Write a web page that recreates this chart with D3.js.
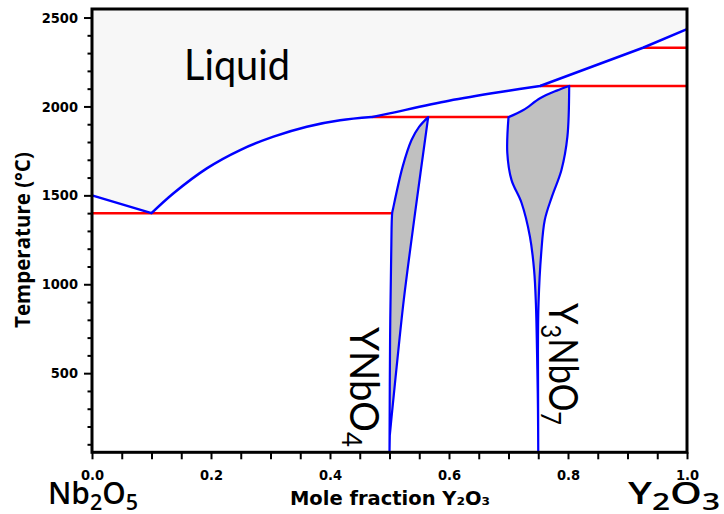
<!DOCTYPE html>
<html>
<head>
<meta charset="utf-8">
<script src="https://cdn.jsdelivr.net/npm/d3@7"></script>
<style>
  body { margin: 0; background: #fff; }
  svg { display: block; }
</style>
</head>
<body>
<svg id="chart" width="724" height="514"></svg>
<script>
// Liquidus, split into its branches (mole fraction Y2O3, temperature in °C)
const liqNbX  = [0, 0.10];
const liqNbT  = [1500, 1400];
const liqLowX = [0.10, 0.137, 0.193, 0.249, 0.305, 0.361, 0.417, 0.47];
const liqLowT = [1400, 1512, 1652, 1755, 1830, 1886, 1922, 1940];
const liqMidX = [0.47, 0.50, 0.60, 0.70, 0.753];
const liqMidT = [1940, 1961, 2032, 2088, 2115];
const liqYX   = [0.753, 0.926, 1.0];
const liqYT   = [2115, 2330, 2435];

// Invariant isotherms
const isoT  = [1400, 1940, 2115, 2330];
const isoX0 = [0, 0.47, 0.753, 0.926];
const isoX1 = [0.504, 0.70, 1.0, 1.0];

// YNbO4 solid-solution field: left boundary (bottom to top), right boundary (top to bottom)
const ynbLeftX  = [0.500, 0.501, 0.503, 0.5045, 0.506, 0.522, 0.537, 0.550, 0.565];
const ynbLeftT  = [55, 700, 1200, 1400, 1425, 1660, 1811, 1886, 1940];
const ynbRightX = [0.565, 0.543, 0.524, 0.512, 0.5035, 0.5005];
const ynbRightT = [1940, 1401, 912, 535, 254, 150];

// Y3NbO7 solid-solution field: left boundary, upper boundary, right boundary
const y3LeftX  = [0.750, 0.7495, 0.7485, 0.746, 0.743, 0.736, 0.722, 0.705, 0.698, 0.700];
const y3LeftT  = [55, 300, 519, 895, 1081, 1268, 1457, 1587, 1738, 1940];
const y3TopX   = [0.700, 0.725, 0.753, 0.781, 0.802];
const y3TopT   = [1940, 1980, 2046, 2089, 2115];
const y3RightX = [0.802, 0.799, 0.789, 0.773, 0.761, 0.755, 0.7505, 0.7495];
const y3RightT = [2115, 1830, 1643, 1493, 1362, 1176, 895, 631];

// Axis ticks
const xTicks      = d3.range(0, 1.0001, 0.05);
const xTickLabels = [0, 0.2, 0.4, 0.6, 0.8, 1.0];
const yTickLabels = [500, 1000, 1500, 2000, 2500];
const yMinor      = d3.range(100, 2550, 100).filter(v => v % 500 !== 0);

const x = d3.scaleLinear().domain([0, 1]).range([92, 687]);
const y = d3.scaleLinear().domain([55, 2548]).range([452.3, 9]);

const svg = d3.select("#chart");
const zip = (xs, ts) => xs.map((v, i) => [v, ts[i]]);
const lin = d3.line().x(d => x(d[0])).y(d => y(d[1]));
const smooth = d3.line().x(d => x(d[0])).y(d => y(d[1])).curve(d3.curveCatmullRom.alpha(0.5));
// chain several path pieces into one continuous path
const chain = (...parts) => parts.map((p, i) => i ? p.replace(/^M/, "L") : p).join("");

const liquidus = chain(
  lin(zip(liqNbX, liqNbT)),
  smooth(zip(liqLowX, liqLowT)),
  smooth(zip(liqMidX, liqMidT)),
  lin(zip(liqYX, liqYT))
);

// liquid field
svg.append("path")
  .attr("d", liquidus + `L${x(1)},${y(2548)}L${x(0)},${y(2548)}Z`)
  .attr("fill", "#f7f7f7");

// isotherms
svg.append("g").selectAll("line")
  .data(isoT)
  .join("line")
  .attr("x1", (t, i) => x(isoX0[i]))
  .attr("x2", (t, i) => x(isoX1[i]))
  .attr("y1", t => y(t))
  .attr("y2", t => y(t))
  .attr("stroke", "#ff0000")
  .attr("stroke-width", 2.5);

// solid-solution fields
const ynbField = chain(
  smooth(zip(ynbLeftX, ynbLeftT)),
  smooth(zip(ynbRightX, ynbRightT))
) + "Z";
const y3Field = chain(
  smooth(zip(y3LeftX, y3LeftT)),
  smooth(zip(y3TopX, y3TopT)),
  smooth(zip(y3RightX, y3RightT))
) + "Z";

svg.append("g").selectAll("path")
  .data([ynbField, y3Field])
  .join("path")
  .attr("d", d => d)
  .attr("fill", "#c0c0c0")
  .attr("stroke", "#0000ff")
  .attr("stroke-width", 2.2)
  .attr("stroke-linejoin", "round");

// liquidus line
svg.append("path")
  .attr("d", liquidus)
  .attr("fill", "none")
  .attr("stroke", "#0000ff")
  .attr("stroke-width", 2.5)
  .attr("stroke-linejoin", "round");

// frame
svg.append("rect")
  .attr("x", x(0)).attr("y", y(2548))
  .attr("width", x(1) - x(0)).attr("height", y(55) - y(2548))
  .attr("fill", "none")
  .attr("stroke", "#000")
  .attr("stroke-width", 3);

const tickFont = "'DejaVu Sans Condensed', 'DejaVu Sans', sans-serif";

// y axis
svg.append("g").attr("transform", `translate(${x(0)},0)`)
  .call(d3.axisLeft(y).tickValues(yMinor).tickSize(4.5).tickFormat(""))
  .call(g => g.select(".domain").remove())
  .call(g => g.selectAll("text").remove())
  .selectAll("line").attr("stroke-width", 2);
const yAxis = svg.append("g").attr("transform", `translate(${x(0)},0)`)
  .call(d3.axisLeft(y).tickValues(yTickLabels).tickSize(8).tickPadding(6).tickFormat(d3.format("d")));
yAxis.select(".domain").remove();
yAxis.selectAll("line").attr("stroke-width", 2);
yAxis.selectAll("text")
  .attr("font-family", tickFont).attr("font-weight", "bold").attr("font-size", 14.5)
  .attr("font-stretch", "condensed").attr("fill", "#000");

// x axis
svg.append("g").attr("transform", `translate(0,${y(55)})`)
  .call(d3.axisBottom(x).tickValues(xTicks).tickSize(7).tickFormat(""))
  .call(g => g.select(".domain").remove())
  .call(g => g.selectAll("text").remove())
  .selectAll("line").attr("stroke-width", 2);
const xAxis = svg.append("g").attr("transform", `translate(0,${y(55)})`)
  .call(d3.axisBottom(x).tickValues(xTickLabels).tickSize(0).tickPadding(17).tickFormat(d3.format(".1f")));
xAxis.select(".domain").remove();
xAxis.selectAll("line").remove();
xAxis.selectAll("text")
  .attr("font-family", tickFont).attr("font-weight", "bold").attr("font-size", 14.5)
  .attr("font-stretch", "condensed").attr("fill", "#000");

// axis titles
svg.append("text")
  .attr("transform", "translate(30,240) rotate(-90)")
  .attr("text-anchor", "middle")
  .attr("font-family", "'Open Sans', sans-serif").attr("font-weight", "bold").attr("font-size", 20.5)
  .text("Temperature (°C)");

svg.append("text")
  .attr("x", 390).attr("y", 505)
  .attr("text-anchor", "middle")
  .attr("font-family", "'DejaVu Sans', sans-serif").attr("font-weight", "bold").attr("font-size", 19.5)
  .text("Mole fraction Y₂O₃");

// chemical formula with subscripted digits
function formula(sel, parts, size, subScale = 0.68) {
  let low = false;
  parts.forEach(([s, sub]) => {
    const t = sel.append("tspan").text(s);
    if (sub) {
      t.attr("font-size", size * subScale);
      if (!low) t.attr("dy", size * 0.2);
      low = true;
    } else {
      if (low) t.attr("dy", -size * 0.2);
      low = false;
    }
  });
  return sel;
}

const endFont = "'Open Sans', sans-serif";
formula(svg.append("text").attr("x", 48).attr("y", 504)
  .attr("font-family", endFont).attr("font-weight", 600).attr("font-size", 30)
  .attr("textLength", 90).attr("lengthAdjust", "spacingAndGlyphs"),
  [["Nb"], ["2", 1], ["O"], ["5", 1]], 30, 0.72);
formula(svg.append("text").attr("x", 628).attr("y", 504)
  .attr("font-family", endFont).attr("font-weight", 600).attr("font-size", 30)
  .attr("textLength", 92).attr("lengthAdjust", "spacingAndGlyphs"),
  [["Y"], ["2", 1], ["O"], ["3", 1]], 30, 0.78);

// field labels
svg.append("text")
  .attr("x", 184).attr("y", 79.5)
  .attr("font-family", "Lato, sans-serif").attr("font-size", 42)
  .attr("textLength", 106).attr("lengthAdjust", "spacingAndGlyphs")
  .text("Liquid");

formula(svg.append("text")
  .attr("transform", "translate(350,327) rotate(90)")
  .attr("font-family", "Lato, sans-serif").attr("font-size", 41)
  .attr("textLength", 120).attr("lengthAdjust", "spacingAndGlyphs"),
  [["YNbO"], ["4", 1]], 41);

formula(svg.append("text")
  .attr("transform", "translate(549,303) rotate(90)")
  .attr("font-family", "Lato, sans-serif").attr("font-size", 41)
  .attr("textLength", 122).attr("lengthAdjust", "spacingAndGlyphs"),
  [["Y"], ["3", 1], ["NbO"], ["7", 1]], 41);
</script>
</body>
</html>
